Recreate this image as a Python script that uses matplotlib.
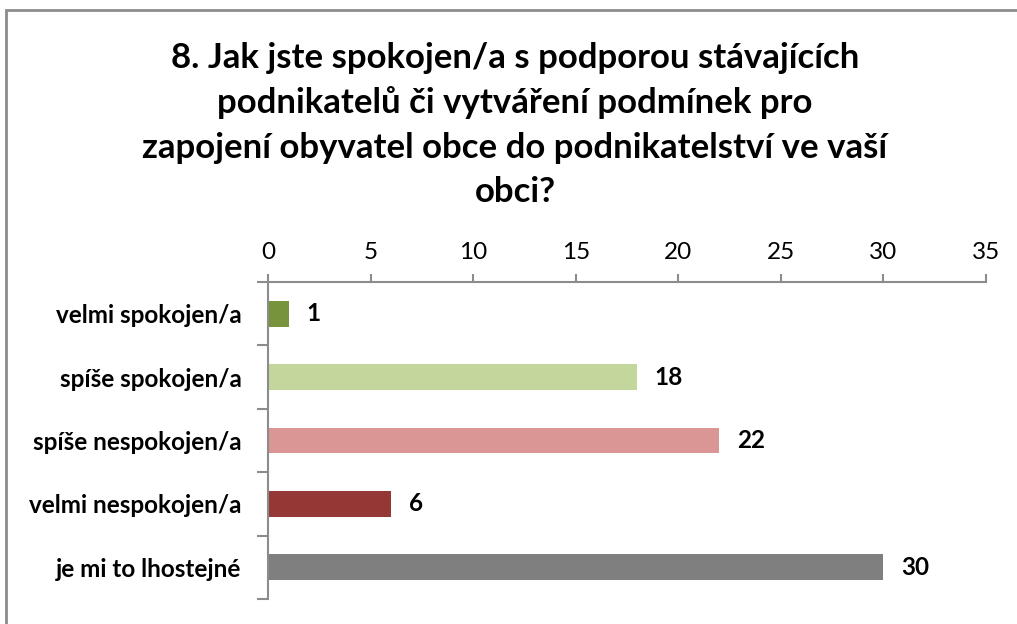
import matplotlib.pyplot as plt
from matplotlib.patches import Rectangle

# Data
categories = ["velmi spokojen/a", "spíše spokojen/a", "spíše nespokojen/a",
              "velmi nespokojen/a", "je mi to lhostejné"]
counts = [1, 18, 22, 6, 30]
bar_colors = ["#77933C", "#C3D69B", "#D99694", "#953735", "#7F7F7F"]
x_ticks = [0, 5, 10, 15, 20, 25, 30, 35]
title = ("8. Jak jste spokojen/a s podporou stávajících\n"
         "podnikatelů či vytváření podmínek pro\n"
         "zapojení obyvatel obce do podnikatelství ve vaší\n"
         "obci?")

plt.rcParams['font.family'] = ['Lato', 'DejaVu Sans']

W, H = 1017, 624
fig = plt.figure(figsize=(W / 100, H / 100), dpi=100)

# chart area border (only top/left edges visible in the picture)
fig.patches.append(Rectangle((5.5 / W, -0.1), 1.2, 1 - 9.5 / H + 0.1,
                             transform=fig.transFigure, fill=False,
                             edgecolor="#8C8C8C", linewidth=2))

# axes placed in pixel terms: x 268..986, y 282..599
ax = fig.add_axes([268 / W, 1 - 599 / H, (986 - 268) / W, (599 - 282) / H])

ypos = list(range(len(categories)))
ax.barh(ypos, counts, height=0.41, color=bar_colors)
ax.set_ylim(len(categories) - 0.5, -0.5)
ax.set_xlim(0, 35)

for y, v in zip(ypos, counts):
    ax.text(v + 0.85, y, str(v), va="center", ha="left",
            fontsize=17.5, fontweight="bold", color="black")

ax.xaxis.tick_top()
ax.set_xticks(x_ticks)
ax.set_xticklabels([str(t) for t in x_ticks], fontsize=17.5)
ax.set_yticks([i - 0.5 for i in range(len(categories) + 1)], minor=True)
ax.set_yticks(ypos)
ax.set_yticklabels(categories, fontsize=17.5, fontweight="bold")
ax.tick_params(axis="y", which="major", length=0, pad=19)
ax.tick_params(axis="y", which="minor", length=8, width=1.5, color="#8C8C8C")
ax.tick_params(axis="x", length=6, width=1.5, color="#8C8C8C", pad=8)

for side in ["right", "bottom"]:
    ax.spines[side].set_visible(False)
for side in ["left", "top"]:
    ax.spines[side].set_color("#8C8C8C")
    ax.spines[side].set_linewidth(1.5)

fig.text(515 / W, 1 - 125 / H, title, ha="center", va="center",
         fontsize=25, fontweight="bold", linespacing=1.48)

fig.savefig("out.png", dpi=100)
